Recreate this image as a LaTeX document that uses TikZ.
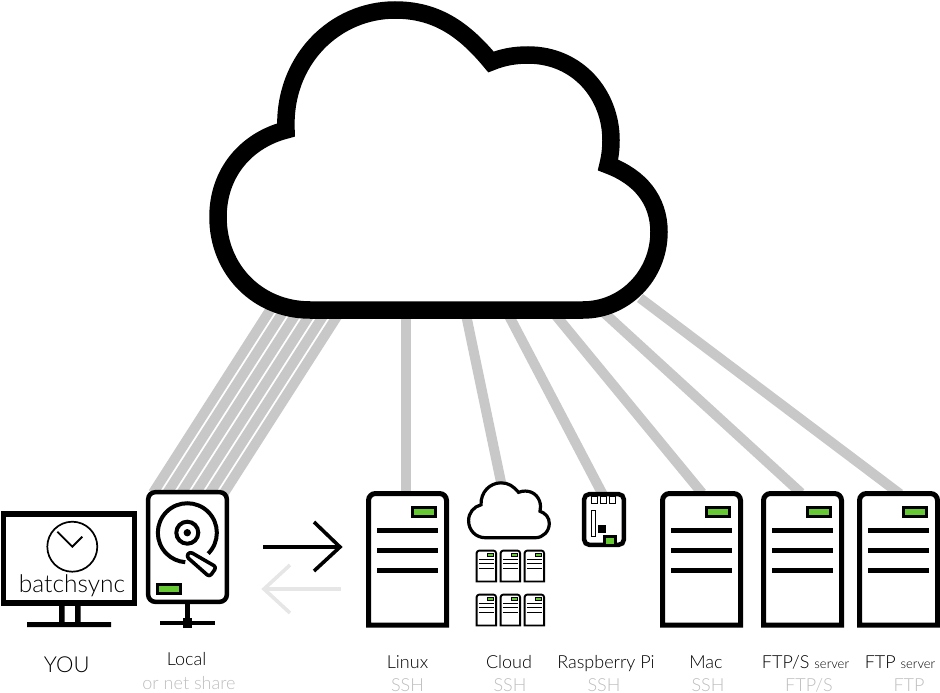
\documentclass[tikz,border=0pt]{standalone}
\usepackage{fontspec}
\setmainfont{Lato Light}
\definecolor{linkgray}{HTML}{C8C8C8}
\definecolor{ledgreen}{HTML}{66C832}
\definecolor{subgray}{HTML}{BDBDBD}
\definecolor{backarrow}{HTML}{E6E6E6}
\newcommand{\cloudshape}[1]{%
  \draw[#1,fill=white,miter limit=10]
    (286,130) .. controls (283,60) and (335,10) .. (395,10)
    .. controls (435,10) and (463,28) .. (491,62)
    .. controls (503,57) and (515,55) .. (528,55)
    .. controls (578,55) and (611,95) .. (611,140)
    .. controls (611,149) and (610,157) .. (608,165)
    .. controls (640,177) and (659,200) .. (659,232)
    .. controls (659,275) and (625,310) .. (583,310)
    -- (310,310)
    .. controls (258,310) and (218,270) .. (218,217)
    .. controls (218,172) and (247,140) .. (286,130) -- cycle;}
% #1 shift x, #2 shift y, #3 xscale, #4 yscale, #5 frame width, #6 bar width, #7 led border
\newcommand{\serverbox}[7]{%
  \begin{scope}[shift={(#1,#2)},xscale=#3,yscale=#4]
    \draw[black,line width=#5,fill=white,line join=miter]
      (2.5,134) -- (2.5,10) [rounded corners=#5*1.4] -- (2.5,2.5) -- (80.5,2.5) [sharp corners] -- (80.5,134) -- cycle;
    \draw[black,line width=#7,fill=ledgreen] (46.5,16.5) rectangle (69.5,25.5);
    \foreach \yy in {39.3,59.3,79.3}
      \draw[black,line width=#6] (11,\yy) -- (72,\yy);
  \end{scope}}
\tikzset{
  x=1pt,y=-1pt,
  link/.style={linkgray,line width=10pt},
  mainlabel/.style={black,inner sep=0pt,font=\fontsize{18}{20}\selectfont,anchor=base},
  sublabel/.style={subgray,inner sep=0pt,font=\fontsize{18}{20}\selectfont,anchor=base},
  arrowline/.style={line width=3.6pt},
}
\begin{document}
\begin{tikzpicture}
\useasboundingbox (0,0) rectangle (940,693);
% connector anchors
\coordinate (cl0) at (276.5,300); \coordinate (lo0) at (153,493);
\coordinate (cl1) at (290.7,300); \coordinate (lo1) at (167.2,493);
\coordinate (cl2) at (304.9,300); \coordinate (lo2) at (181.4,493);
\coordinate (cl3) at (319.1,300); \coordinate (lo3) at (195.6,493);
\coordinate (cl4) at (333.3,300); \coordinate (lo4) at (209.8,493);
\coordinate (cl5) at (347.5,300); \coordinate (lo5) at (224,493);
\coordinate (clLinux) at (406,305); \coordinate (linux) at (406,493);
\coordinate (clCloud) at (464,305); \coordinate (cloudsrv) at (502,487);
\coordinate (clPi) at (507,312); \coordinate (pi) at (603,495);
\coordinate (clMac) at (553,312); \coordinate (mac) at (702,493);
\coordinate (clFtps) at (600,309); \coordinate (ftps) at (801,493);
\coordinate (clFtp) at (640,298); \coordinate (ftp) at (900,494);
\foreach \i in {0,...,5} \draw[link] (cl\i) -- (lo\i);
\draw[link] (clLinux) -- (linux);
\draw[link] (clCloud) -- (cloudsrv);
\draw[link] (clPi) -- (pi);
\draw[link] (clMac) -- (mac);
\draw[link] (clFtps) -- (ftps);
\draw[link] (clFtp) -- (ftp);
% big cloud
\cloudshape{black,line width=17.5pt}
% monitor
\draw[black,line width=5.5pt,fill=white] (3.7,513.8) rectangle (134.3,603);
\fill[black] (59,606) rectangle (64.5,625) (75,606) rectangle (80.5,625) (27,622) rectangle (111,627);
\draw[black,line width=1.7pt] (72.3,546.7) circle (25);
\coordinate (clockc) at (72.3,546.7);
\draw[black,line width=1.8pt] (57.3,531.7) -- (clockc) -- (82.3,536.7);
\node[black,inner sep=0pt,font=\fontsize{24.5}{28}\selectfont,anchor=base] (brand) at (72,592.7) {batchsync};
% disk
\draw[black,line width=4.5pt,fill=white,rounded corners=7pt] (148.2,492.2) rectangle (226.8,601.8);
\draw[black,line width=4pt] (208.2,553.6) arc (45:-266:29.5);
\draw[black,line width=4pt] (187.3,532.7) circle (11);
\fill[black] (187.3,532.7) circle (3.7);
\draw[black,line width=3.6pt,fill=white,rounded corners=3pt,line join=round]
  (186.3,556.4) -- (189.7,551.6) -- (216.5,567.1) -- (209.5,576.9) -- cycle;
\draw[black,line width=3pt,fill=ledgreen] (157.5,584.5) rectangle (180.5,593.5);
\draw[black,line width=4.8pt] (187.3,604) -- (187.3,622);
\draw[black,line width=4.2pt] (160,623) -- (215,623);
\fill[black] (183,618) rectangle (192,628);
% servers
\serverbox{366}{491}{1}{1}{5pt}{5pt}{3pt}
\serverbox{660}{491}{1}{1}{5pt}{5pt}{3pt}
\serverbox{761}{491}{1}{1}{5pt}{5pt}{3pt}
\serverbox{857}{491}{1}{1}{5pt}{5pt}{3pt}
% small cloud
\begin{scope}[shift={(428.7,481)},scale=0.183]
  \cloudshape{black,line width=3.2pt}
\end{scope}
\foreach \cx in {476,500,524} \foreach \cy in {550,594}
  \serverbox{\cx}{\cy}{0.25}{0.235}{1.9pt}{1pt}{0.8pt};
% raspberry pi
\draw[black,line width=4.5pt,fill=white,rounded corners=5pt] (584.2,494.2) rectangle (623.8,544.8);
\draw[black,line width=1pt] (591.5,496) rectangle (597,503.5) (600.5,496) rectangle (606,503.5) (609.5,496) rectangle (615,503.5);
\draw[black,line width=1pt] (591.5,510.5) rectangle (595,536.5);
\fill[black] (598,525) rectangle (606,533);
\fill[black] (603,535) rectangle (617,547);
\fill[ledgreen] (606,538) rectangle (614,544);
% transfer arrows
\coordinate (outTail) at (263,547); \coordinate (outTip) at (340,547);
\coordinate (backTail) at (341,589); \coordinate (backTip) at (264,589);
\draw[backarrow,arrowline] (backTail) -- (backTip);
\draw[backarrow,arrowline] (290,565) -- (backTip) -- (290,613);
\draw[black,arrowline] (outTail) -- (outTip);
\draw[black,arrowline] (314,522) -- (outTip) -- (314,571);
% labels
\node[mainlabel,font=\fontsize{22}{24}\selectfont] (you) at (66.7,672) {YOU};
\node[mainlabel] (lLocal) at (186.5,665.7) {Local};
\node[sublabel] (lNet) at (189,689) {or net share};
\node[mainlabel] (lLinux) at (407.5,668) {Linux};
\node[sublabel] (sLinux) at (407.5,691) {SSH};
\node[mainlabel] (lCloud) at (509,668) {Cloud};
\node[sublabel] (sCloud) at (510,691) {SSH};
\node[mainlabel] (lPi) at (606,668) {Raspberry Pi};
\node[sublabel] (sPi) at (604,691) {SSH};
\node[mainlabel] (lMac) at (706,668) {Mac};
\node[sublabel] (sMac) at (708,691) {SSH};
\node[mainlabel] (lFtps) at (805.5,668) {FTP/S {\fontsize{13}{15}\selectfont server}};
\node[sublabel] (sFtps) at (809,691) {FTP/S};
\node[mainlabel] (lFtp) at (900,668) {FTP {\fontsize{13}{15}\selectfont server}};
\node[sublabel] (sFtp) at (909,691) {FTP};
\end{tikzpicture}
\end{document}
